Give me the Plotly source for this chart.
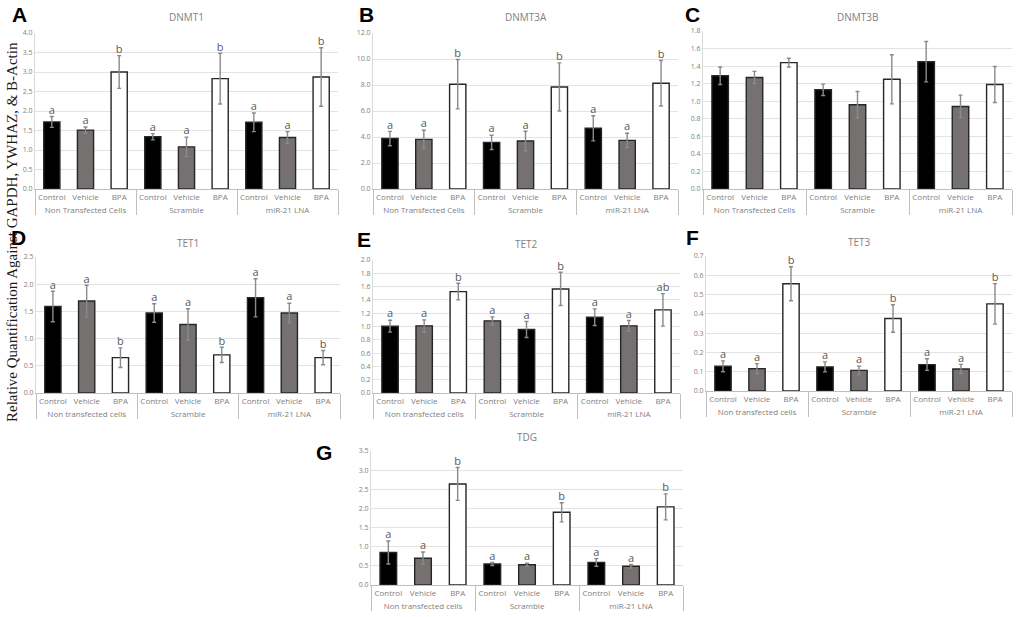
import plotly.graph_objects as go

# groups and treatments
groups_upper = ["Non Transfected Cells", "Scramble", "miR-21 LNA"]
groups_lower = ["Non transfected cells", "Scramble", "miR-21 LNA"]
treatments = ["Control", "Vehicle", "BPA"]

# values (Control, Vehicle, BPA per group)
dnmt1_mean = [1.72, 1.51, 3.00, 1.34, 1.08, 2.83, 1.71, 1.32, 2.87]
dnmt1_err = [0.14, 0.08, 0.42, 0.08, 0.25, 0.65, 0.24, 0.15, 0.75]
dnmt1_sig = ["a", "a", "b", "a", "a", "b", "a", "a", "b"]

dnmt3a_mean = [3.88, 3.82, 8.06, 3.59, 3.69, 7.85, 4.67, 3.74, 8.13]
dnmt3a_err = [0.55, 0.70, 1.90, 0.55, 0.75, 1.85, 0.97, 0.55, 1.75]
dnmt3a_sig = ["a", "a", "b", "a", "a", "b", "a", "a", "b"]

dnmt3b_mean = [1.29, 1.27, 1.44, 1.13, 0.96, 1.25, 1.45, 0.94, 1.19]
dnmt3b_err = [0.10, 0.07, 0.05, 0.065, 0.15, 0.28, 0.23, 0.13, 0.205]
dnmt3b_sig = ["", "", "", "", "", "", "", "", ""]

tet1_mean = [1.59, 1.69, 0.65, 1.47, 1.26, 0.70, 1.75, 1.47, 0.65]
tet1_err = [0.28, 0.29, 0.18, 0.17, 0.29, 0.14, 0.35, 0.18, 0.13]
tet1_sig = ["a", "a", "b", "a", "a", "b", "a", "a", "b"]

tet2_mean = [1.005, 1.01, 1.525, 1.085, 0.955, 1.565, 1.14, 1.01, 1.25]
tet2_err = [0.09, 0.09, 0.125, 0.06, 0.12, 0.25, 0.125, 0.08, 0.245]
tet2_sig = ["a", "a", "b", "a", "a", "b", "a", "a", "ab"]

tet3_mean = [0.128, 0.116, 0.556, 0.125, 0.107, 0.376, 0.137, 0.114, 0.452]
tet3_err = [0.028, 0.026, 0.088, 0.026, 0.022, 0.071, 0.030, 0.024, 0.105]
tet3_sig = ["a", "a", "b", "a", "a", "b", "a", "a", "b"]

tdg_mean = [0.85, 0.70, 2.64, 0.55, 0.53, 1.90, 0.59, 0.49, 2.04]
tdg_err = [0.30, 0.16, 0.43, 0.04, 0.04, 0.25, 0.10, 0.05, 0.34]
tdg_sig = ["a", "a", "b", "a", "a", "b", "a", "a", "b"]

BLACK, GREY, WHITE = "#000000", "#767171", "#ffffff"
default_colors = [BLACK, GREY, WHITE] * 3
tet2_colors = [BLACK, GREY, WHITE, GREY, BLACK, WHITE, BLACK, GREY, WHITE]

W, H = 1024, 617
XTICK = dict(family="Open Sans", size=8, color="#808080")
YTICK = dict(family="Open Sans", size=7, color="#808080")

# (letter, title, mean, err, sig, groups, colors, x0, x1, y0, y1, ymax, dtick)
panels = [
    ("A", "DNMT1", dnmt1_mean, dnmt1_err, dnmt1_sig, groups_upper, default_colors, 35, 338, 33, 189, 4.0, 0.5),
    ("B", "DNMT3A", dnmt3a_mean, dnmt3a_err, dnmt3a_sig, groups_upper, default_colors, 373, 678, 33, 189, 12.0, 2.0),
    ("C", "DNMT3B", dnmt3b_mean, dnmt3b_err, dnmt3b_sig, groups_upper, default_colors, 703, 1012, 31, 189, 1.8, 0.2),
    ("D", "TET1", tet1_mean, tet1_err, tet1_sig, groups_lower, default_colors, 36, 340, 257, 393, 2.5, 0.5),
    ("E", "TET2", tet2_mean, tet2_err, tet2_sig, groups_lower, tet2_colors, 373, 680, 260, 393, 2.0, 0.2),
    ("F", "TET3", tet3_mean, tet3_err, tet3_sig, groups_lower, default_colors, 706, 1012, 256, 391, 0.7, 0.1),
    ("G", "TDG", tdg_mean, tdg_err, tdg_sig, groups_lower, default_colors, 371, 683, 451, 585, 3.5, 0.5),
]
letter_pos = [(19, 14), (366, 14), (692, 14), (18, 238), (364, 240), (692, 238), (324, 452)]
title_y = [17, 17, 17, 243, 244, 242, 437]

fig = go.Figure()
annotations = []
layout = {}

for i, (letter, title, mean, err, sig, groups, colors, x0, x1, y0, y1, ymax, dtick) in enumerate(panels):
    n = i + 1
    xa = "x" if n == 1 else f"x{n}"
    ya = "y" if n == 1 else f"y{n}"
    xcat = [[g for g in groups for _ in treatments], treatments * len(groups)]
    fig.add_trace(go.Bar(
        x=xcat, y=mean, xaxis=xa, yaxis=ya,
        marker=dict(color=colors, line=dict(color="#262626", width=1.4)),
        error_y=dict(type="data", array=err, color="#8a8a8a", thickness=1.4, width=2),
        showlegend=False,
    ))
    fig.add_trace(go.Scatter(
        x=xcat, y=[m + e for m, e in zip(mean, err)], xaxis=xa, yaxis=ya,
        mode="text", text=sig, textposition="top center",
        textfont=dict(family="Open Sans", size=11, color="#595959"),
        showlegend=False, hoverinfo="skip",
    ))
    layout["xaxis" if n == 1 else f"xaxis{n}"] = dict(
        domain=[x0 / W, x1 / W], anchor=ya, type="multicategory",
        showline=True, linecolor="#bfbfbf", linewidth=1,
        showdividers=True, dividercolor="#bfbfbf", dividerwidth=1,
        tickfont=XTICK, tickangle=0, showgrid=False, ticks="", automargin=False,
    )
    layout["yaxis" if n == 1 else f"yaxis{n}"] = dict(
        domain=[1 - y1 / H, 1 - y0 / H], anchor=xa, range=[0, ymax],
        dtick=dtick, tickformat=".1f", tickfont=YTICK, automargin=False,
        showgrid=True, gridcolor="#e3e3e3", gridwidth=1,
        zeroline=False, showline=True, linecolor="#d9d9d9", ticks="",
    )
    annotations.append(dict(
        text=title, xref="paper", yref="paper",
        x=(x0 + x1) / 2 / W, y=1 - title_y[i] / H, showarrow=False,
        xanchor="center", yanchor="middle",
        font=dict(family="Open Sans", size=10, color="#7f7f7f"),
    ))
    lx, ly = letter_pos[i]
    annotations.append(dict(
        text=f"<b>{letter}</b>", xref="paper", yref="paper",
        x=lx / W, y=1 - ly / H, showarrow=False,
        xanchor="center", yanchor="middle",
        font=dict(family="Liberation Sans", size=21, color="#000000"),
    ))

annotations.append(dict(
    text="Relative Quantification Against GAPDH, YWHAZ, & B-Actin",
    xref="paper", yref="paper", x=12 / W, y=1 - 232 / H, textangle=-90,
    xanchor="center", yanchor="middle",
    showarrow=False, font=dict(family="Liberation Serif", size=15, color="#1a1a1a"),
))

fig.update_layout(
    width=W, height=H, margin=dict(l=0, r=0, t=0, b=0, pad=0),
    paper_bgcolor="white", plot_bgcolor="white",
    bargap=0.52, annotations=annotations, **layout,
)

# page body has a default 8px margin; drop it so the figure fills the window
fig.write_html("out.html", config={"displayModeBar": False},
               post_script="document.body.style.margin='0';")
